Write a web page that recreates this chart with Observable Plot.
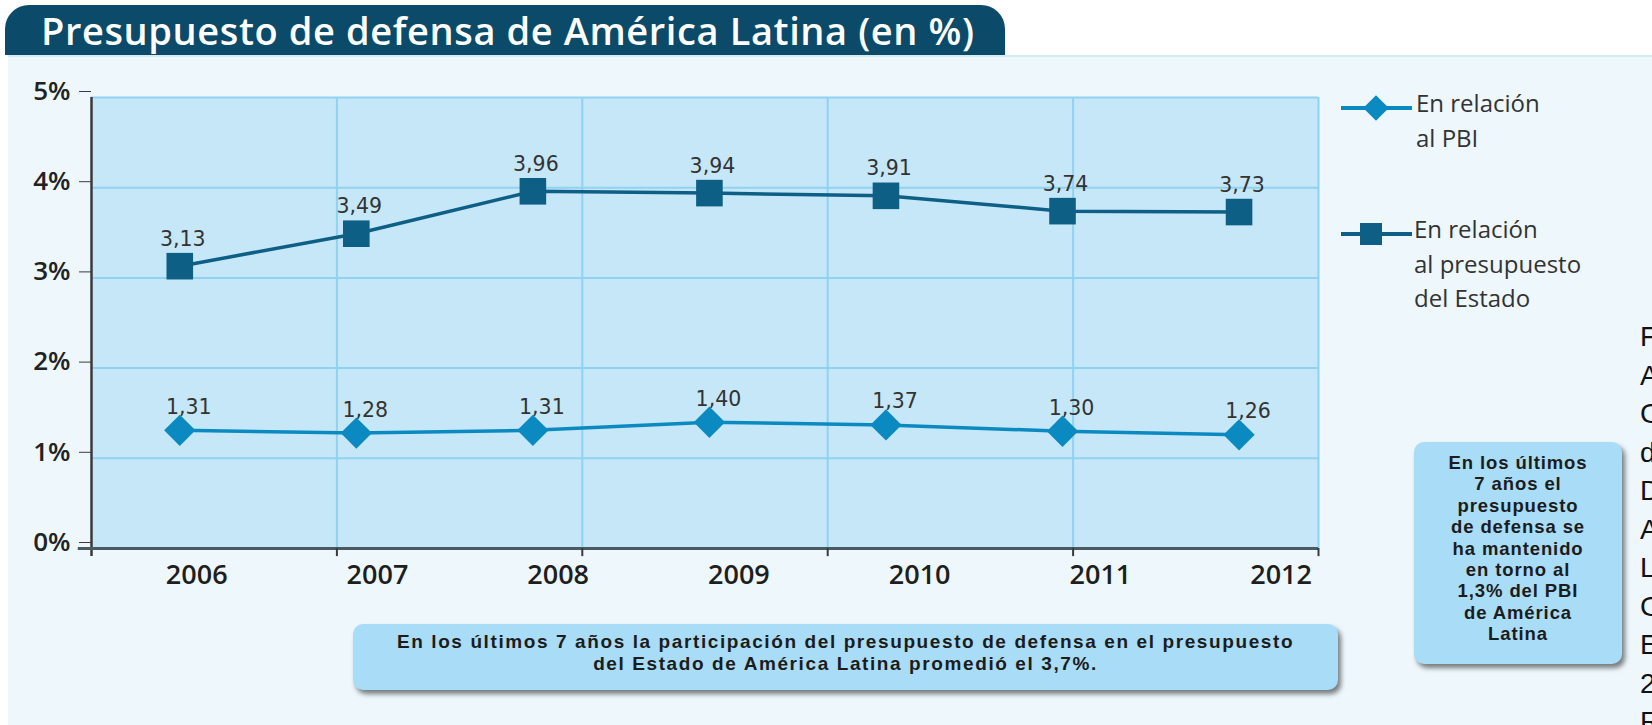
<!DOCTYPE html>
<html>
<head>
<meta charset="utf-8">
<script src="https://cdn.jsdelivr.net/npm/d3@7"></script>
<script src="https://cdn.jsdelivr.net/npm/@observablehq/plot@0.6"></script>
<style>
  html, body { margin: 0; padding: 0; width: 1652px; height: 725px; overflow: hidden; background: #ffffff; }
  body { position: relative; font-family: "Open Sans", "Noto Sans", sans-serif; }
  #titlebar { position: absolute; left: 5px; top: 5px; width: 1000px; height: 50px; background: #0c4a69;
    border-radius: 24px 24px 0 0; }
  #title { position: absolute; left: 36px; top: -1px; color: #fff; font-size: 38px; font-weight: 600;
    white-space: nowrap; letter-spacing: 0.6px; }
  #panel { position: absolute; left: 8px; top: 55px; width: 1644px; height: 670px; background: #edf7fc;
    border-top: 2px solid #d4ecf8; }
  #chart { position: absolute; left: 0; top: 60px; }
  .leg { position: absolute; color: #333; font-size: 24px; line-height: 34.5px; white-space: nowrap; }
  .box { position: absolute; background: #a9dcf6; border-radius: 10px; box-shadow: 3px 4px 5px rgba(0,0,0,0.5);
    color: #1c1c1c; font-weight: 700; text-align: center; box-sizing: border-box;
    font-family: "Liberation Sans", Arial, sans-serif; }
  .box .ln { display: block; white-space: nowrap; }
  #source { position: absolute; left: 1640px; top: 318px; font-family: "Liberation Sans", Arial, sans-serif;
    font-size: 28px; line-height: 38.5px; color: #111; white-space: nowrap; }
</style>
</head>
<body>
<div id="panel"></div>
<div id="titlebar"><div id="title">Presupuesto de defensa de América Latina (en %)</div></div>
<div id="chart"></div>

<div class="leg" style="left:1340px; top:86px;">
  <svg width="72" height="40" style="position:absolute; left:0; top:2px;">
    <line x1="1" y1="20" x2="72" y2="20" stroke="#0b8ac2" stroke-width="4"/>
    <rect x="27" y="11" width="18" height="18" fill="#0b8ac2" transform="rotate(45 36 20)"/>
  </svg>
  <div style="position:absolute; left:76px; top:0; ">En relación<br>al PBI</div>
</div>
<div class="leg" style="left:1340px; top:212px;">
  <svg width="72" height="40" style="position:absolute; left:0; top:2px;">
    <line x1="1" y1="20" x2="72" y2="20" stroke="#0d5f86" stroke-width="4"/>
    <rect x="20" y="9" width="22" height="22" fill="#0d5f86"/>
  </svg>
  <div style="position:absolute; left:74px; top:0;">En relación<br>al presupuesto<br>del Estado</div>
</div>

<div class="box" style="left:353px; top:624px; width:985px; height:66px; font-size:19px; line-height:22px; letter-spacing:1.6px; padding-top:7px;">
  <span class="ln">En los últimos 7 años la participación del presupuesto de defensa en el presupuesto</span>
  <span class="ln">del Estado de América Latina promedió el 3,7%.</span>
</div>
<div class="box" style="left:1414px; top:442px; width:208px; height:222px; font-size:18.5px; line-height:21.4px; letter-spacing:0.9px; padding-top:10px;">
  <span class="ln">En los últimos</span>
  <span class="ln">7 años el</span>
  <span class="ln">presupuesto</span>
  <span class="ln">de defensa se</span>
  <span class="ln">ha mantenido</span>
  <span class="ln">en torno al</span>
  <span class="ln">1,3% del PBI</span>
  <span class="ln">de América</span>
  <span class="ln">Latina</span>
</div>

<div id="source">Fuente:<br>Atlas<br>Comparativo<br>de la<br>Defensa en<br>América<br>Latina y<br>Caribe<br>Edición<br>2012<br>RESDAL</div>

<script>
// ---- data ----
const years = [2006, 2007, 2008, 2009, 2010, 2011, 2012];
const pbi = [1.31, 1.28, 1.31, 1.40, 1.37, 1.30, 1.26];
const estado = [3.13, 3.49, 3.96, 3.94, 3.91, 3.74, 3.73];
const yTicks = [0, 1, 2, 3, 4, 5];

// ---- styles ----
const cDark = "#0d5f86";
const cLight = "#0b8ac2";
const cGrid = "#8fd2f1";
const cPlot = "#c6e7f7";
const cAxis = "#3a3a3a";

const x0 = 2005.5, x1 = 2012.45;
const divisions = d3.range(0, 6).map(k => x0 + k * (x1 - x0) / 5);
// year labels sit on a slightly wider, right-shifted spacing than the points
const labelX = d => 2006.096 + (d - 2006) * 1.0237;

const rowsE = years.map((y, i) => ({year: y, v: estado[i]}));
const rowsP = years.map((y, i) => ({year: y, v: pbi[i]}));
const fmt = v => v.toFixed(2).replace(".", ",");

const chart = Plot.plot({
  width: 1340,
  height: 548,
  marginLeft: 91,
  marginRight: 22,
  marginTop: 37,
  marginBottom: 60,
  style: {background: "transparent", overflow: "visible"},
  x: {type: "linear", domain: [x0, x1], axis: null},
  y: {domain: [0, 5], axis: null},
  marks: [
    Plot.frame({fill: cPlot, stroke: null}),
    Plot.ruleY(yTicks.filter(d => d > 0), {stroke: cGrid, strokeWidth: 2}),
    Plot.ruleX(divisions.slice(1), {stroke: cGrid, strokeWidth: 2}),
    Plot.ruleX([x0], {y1: -0.09, y2: 5, stroke: cAxis, strokeWidth: 2.5}),
    Plot.ruleY([0], {x1: x0 - 0.075, x2: x1, stroke: "#4a5a62", strokeWidth: 3}),
    Plot.ruleX(divisions.slice(1), {y1: 0, y2: -0.09, stroke: cAxis, strokeWidth: 2}),
    Plot.axisY({ticks: yTicks, tickFormat: d => d + "%", tickSize: 12, tickPadding: 9, label: null,
      stroke: cAxis, fontSize: 26, fontWeight: 600, fill: "#222", dy: -6, fontFamily: "Open Sans"}),
    Plot.text(years, {x: labelX, y: 0, text: d => String(d), dy: 27,
      fontSize: 27, fontWeight: 600, fill: "#1e1e1e", fontFamily: "Open Sans"}),
    Plot.line(rowsE, {x: "year", y: "v", stroke: cDark, strokeWidth: 3.5}),
    Plot.dot(rowsE, {x: "year", y: "v", symbol: "square", r: 15, fill: cDark, stroke: null}),
    Plot.line(rowsP, {x: "year", y: "v", stroke: cLight, strokeWidth: 3.5}),
    Plot.dot(rowsP, {x: "year", y: "v", symbol: "square", r: 12.5, rotate: 45, fill: cLight, stroke: null}),
    Plot.text(rowsE, {x: "year", y: "v", text: d => fmt(d.v), dy: -27, dx: 3,
      fontSize: 20.5, fill: "#333", fontFamily: "DejaVu Sans"}),
    Plot.text(rowsP, {x: "year", y: "v", text: d => fmt(d.v), dy: -23, dx: 9,
      fontSize: 20.5, fill: "#333", fontFamily: "DejaVu Sans"})
  ]
});
document.getElementById("chart").appendChild(chart);
</script>
</body>
</html>
